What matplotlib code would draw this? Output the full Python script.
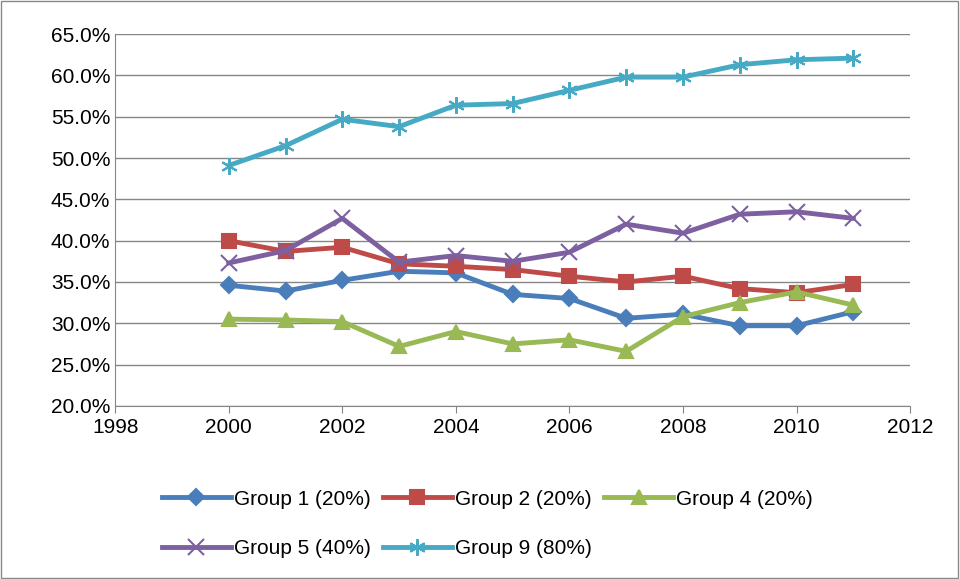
import matplotlib.pyplot as plt
from matplotlib.patches import Rectangle
from matplotlib.ticker import FuncFormatter

plt.rcParams['font.family'] = ['Liberation Sans', 'DejaVu Sans']

years = list(range(2000, 2012))
group1 = [34.6, 33.9, 35.2, 36.3, 36.1, 33.5, 33.0, 30.6, 31.1, 29.7, 29.7, 31.4]
group2 = [40.0, 38.7, 39.2, 37.2, 36.9, 36.5, 35.7, 35.0, 35.7, 34.2, 33.7, 34.7]
group4 = [30.5, 30.4, 30.2, 27.2, 29.0, 27.5, 28.0, 26.6, 30.8, 32.5, 33.8, 32.2]
group5 = [37.3, 38.8, 42.7, 37.4, 38.2, 37.5, 38.6, 42.0, 40.9, 43.2, 43.5, 42.7]
group9 = [49.1, 51.5, 54.7, 53.8, 56.4, 56.6, 58.2, 59.8, 59.8, 61.3, 61.9, 62.1]

series = [
    ("Group 1 (20%)", group1, "#4a7ebb", "D", 8),
    ("Group 2 (20%)", group2, "#be4b48", "s", 10),
    ("Group 4 (20%)", group4, "#98b954", "^", 10),
    ("Group 5 (40%)", group5, "#7d60a0", "x", 11),
    ("Group 9 (80%)", group9, "#46aac5", (6, 2, 0), 12),
]

fig = plt.figure(figsize=(9.6, 5.79), dpi=100)
ax = fig.add_axes([0.12, 0.299, 0.828, 0.642])
fig.patches.append(Rectangle((0.001, 0.001), 0.997, 0.997, transform=fig.transFigure,
                             fill=False, edgecolor="#888888", lw=1))

lines = []
for label, vals, col, mk, ms in series:
    ln, = ax.plot(years, vals, color=col, lw=3.5, marker=mk, markersize=ms,
                  markeredgecolor=col, markerfacecolor=col, markeredgewidth=1.5, label=label)
    lines.append(ln)

ax.set_xlim(1998, 2012)
ax.set_ylim(20, 65)
ax.set_xticks(range(1998, 2013, 2))
ax.set_yticks(range(20, 66, 5))
ax.yaxis.set_major_formatter(FuncFormatter(lambda v, p: f"{v:.1f}%"))
ax.grid(axis="y", color="#868686", lw=1)
ax.set_axisbelow(True)
for s in ["top", "right"]:
    ax.spines[s].set_visible(False)
for s in ["left", "bottom"]:
    ax.spines[s].set_color("#868686")
ax.tick_params(labelsize=15, color="#868686", direction="out", length=5)
ax.tick_params(axis="y", length=0)

# legend fills row by row like the original
order = [0, 3, 1, 4, 2]
ax.legend([lines[i] for i in order], [series[i][0] for i in order],
          loc="upper left", bbox_to_anchor=(0.035, -0.175), ncol=3, frameon=False,
          fontsize=15, handlelength=3.3, handletextpad=0.15, columnspacing=0.6,
          labelspacing=1.45)

fig.savefig("out.png")
